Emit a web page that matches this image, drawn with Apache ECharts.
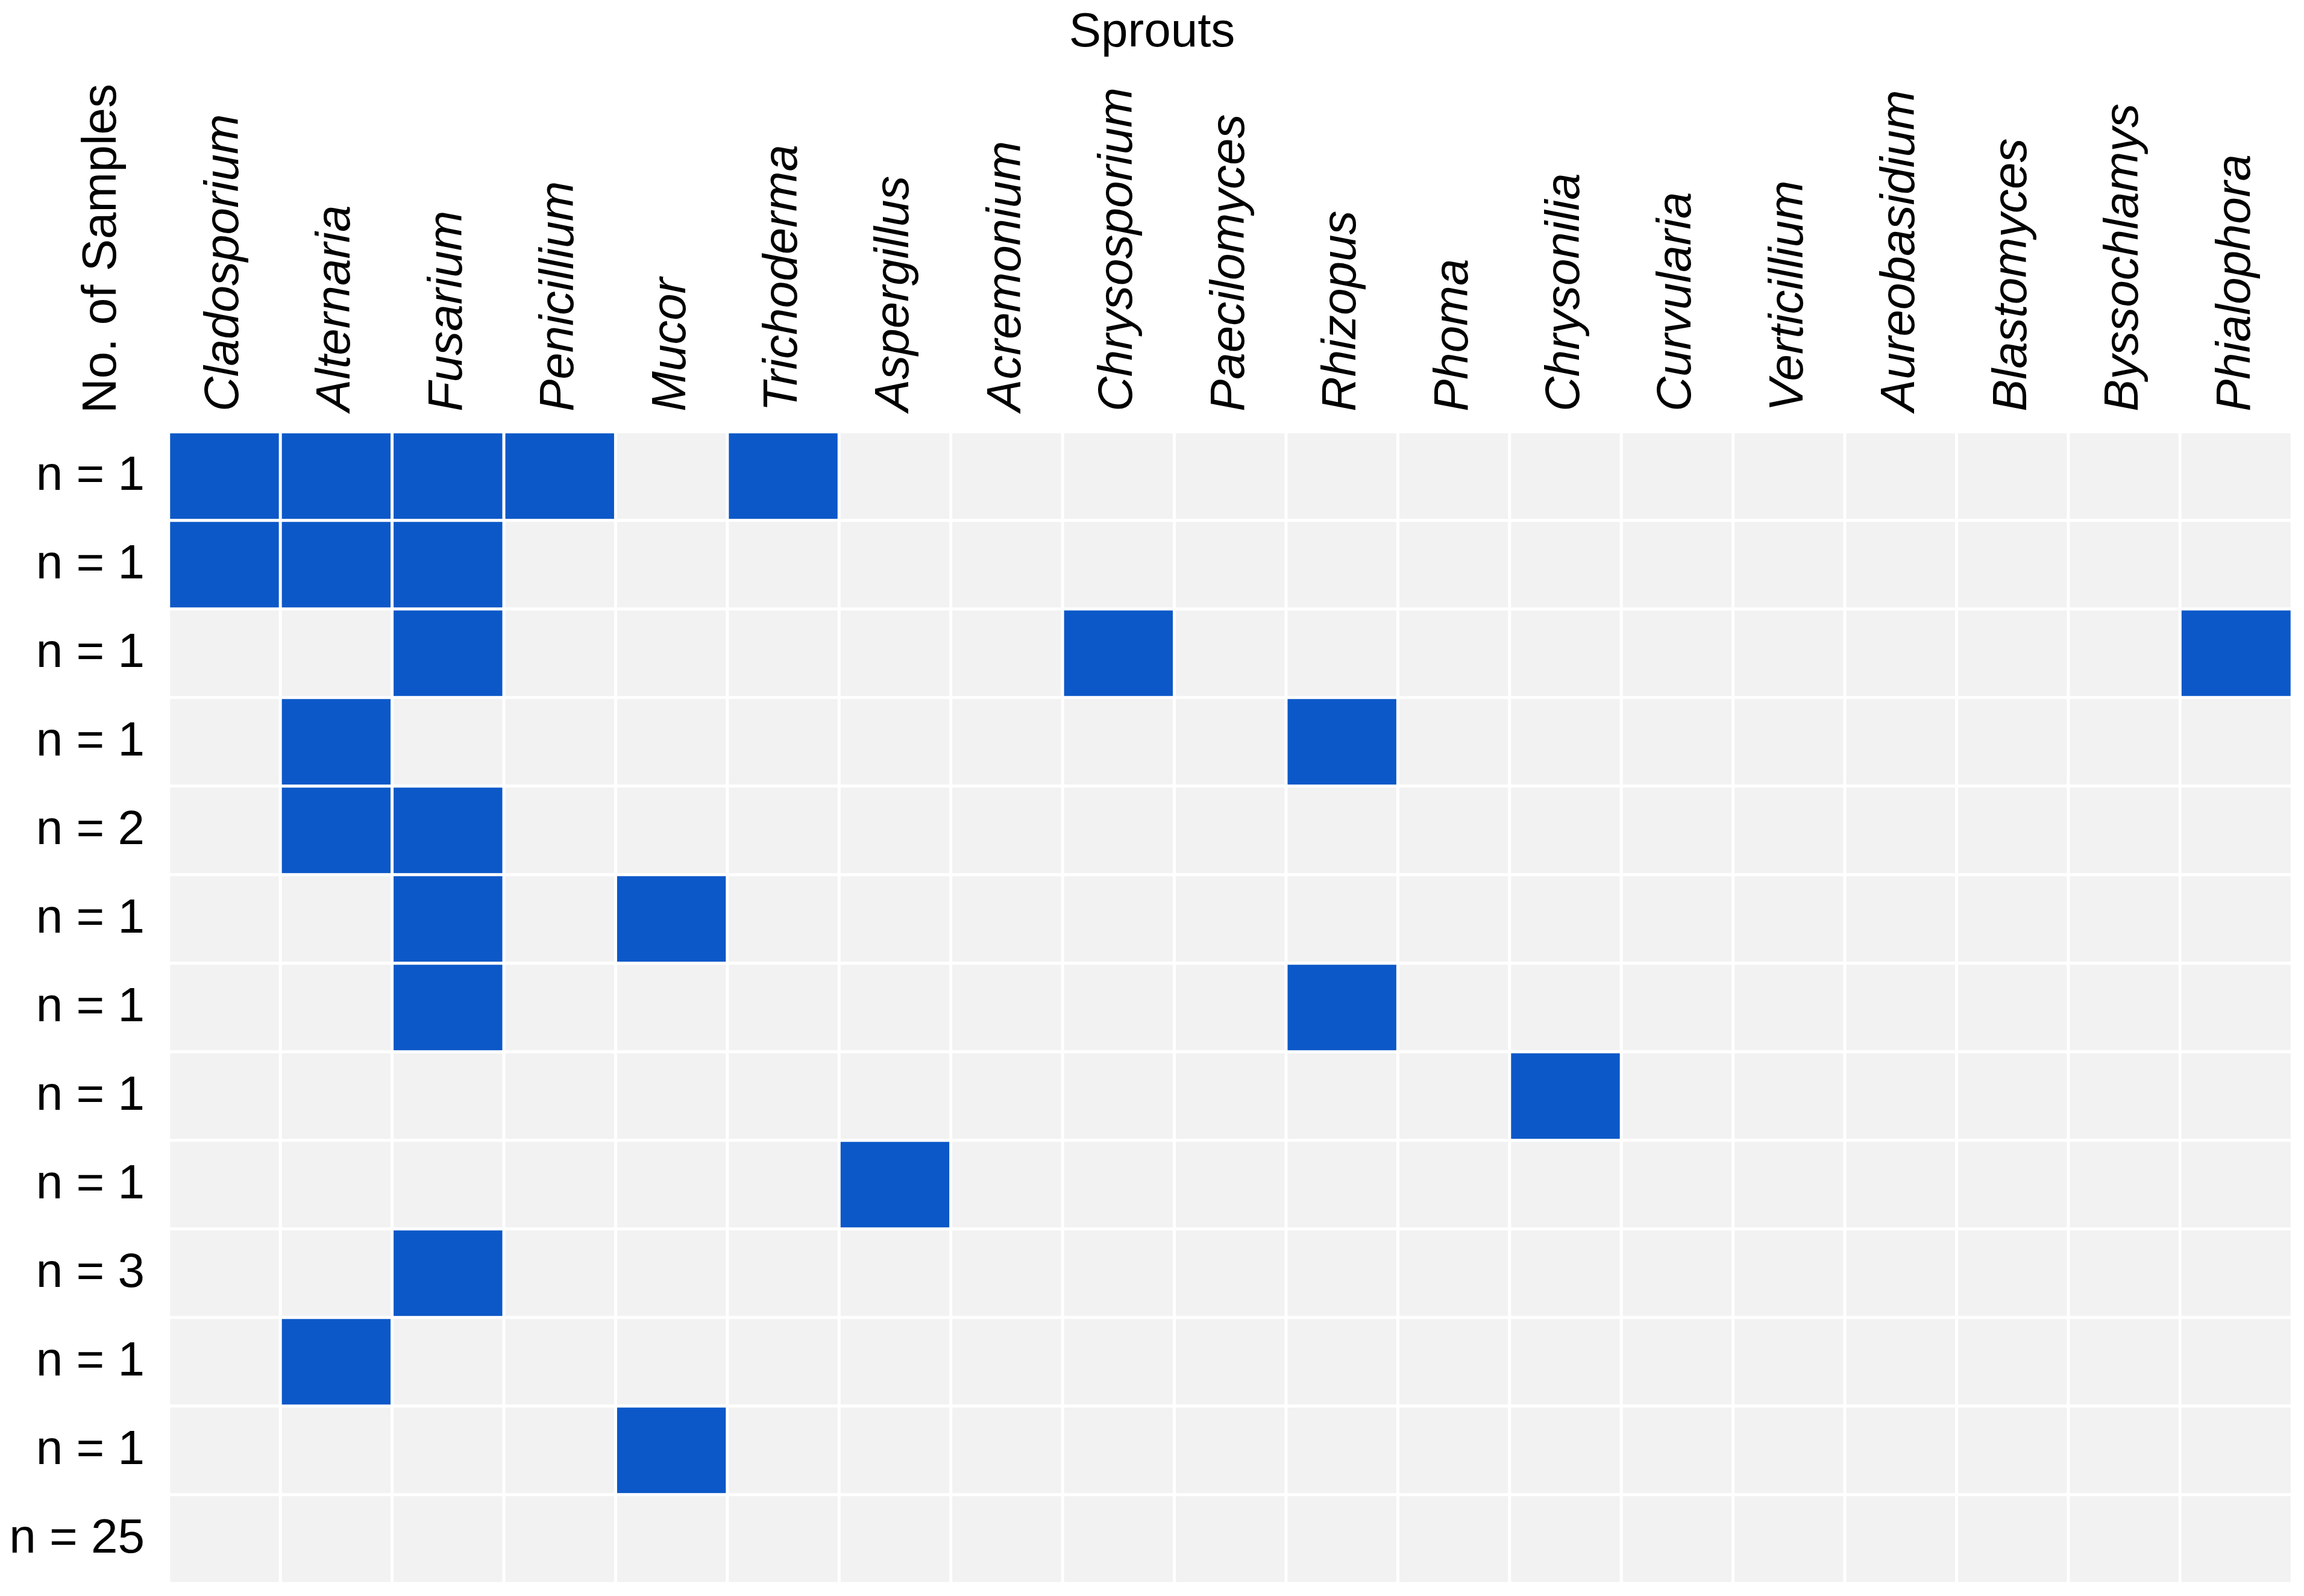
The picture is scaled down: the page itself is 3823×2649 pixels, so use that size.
<!DOCTYPE html>
<html>
<head>
<meta charset="utf-8">
<title>Sprouts</title>
<script src="https://cdn.jsdelivr.net/npm/echarts@6/dist/echarts.min.js"></script>
<style>
  html, body { margin: 0; padding: 0; background: #fff; }
  #main { width: 3823px; height: 2649px; }
</style>
</head>
<body>
<div id="main"></div>
<script>
const genera = [
  'Cladosporium', 'Alternaria', 'Fusarium', 'Penicillium', 'Mucor',
  'Trichoderma', 'Aspergillus', 'Acremonium', 'Chrysosporium', 'Paecilomyces',
  'Rhizopus', 'Phoma', 'Chrysonilia', 'Curvularia', 'Verticillium',
  'Aureobasidium', 'Blastomyces', 'Byssochlamys', 'Phialophora'
]
const sampleLabels = [
  'n = 1', 'n = 1', 'n = 1', 'n = 1', 'n = 2', 'n = 1', 'n = 1',
  'n = 1', 'n = 1', 'n = 3', 'n = 1', 'n = 1', 'n = 25'
]
// genera found in each sample group, top row first
const found = [
  ['Cladosporium', 'Alternaria', 'Fusarium', 'Penicillium', 'Trichoderma'],
  ['Cladosporium', 'Alternaria', 'Fusarium'],
  ['Fusarium', 'Chrysosporium', 'Phialophora'],
  ['Alternaria', 'Rhizopus'],
  ['Alternaria', 'Fusarium'],
  ['Fusarium', 'Mucor'],
  ['Fusarium', 'Rhizopus'],
  ['Chrysonilia'],
  ['Aspergillus'],
  ['Fusarium'],
  ['Alternaria'],
  ['Mucor'],
  []
]

const FONT = 'Liberation Sans'
const BLUE = '#0c58c8'
const GREY = '#f2f2f2'

const cells = []
sampleLabels.forEach((_, r) => {
  genera.forEach((g, c) => {
    cells.push([c, r, found[r].includes(g) ? 1 : 0])
  })
})

const chart = echarts.init(document.getElementById('main'))
chart.setOption({
  animation: false,
  backgroundColor: '#fff',
  title: {
    text: 'Sprouts',
    left: 'center',
    top: 10,
    textStyle: { fontFamily: FONT, fontSize: 80, fontWeight: 'normal', color: '#000' }
  },
  graphic: [{
    type: 'text',
    x: 170,
    y: 686,
    rotation: Math.PI / 2,
    style: {
      text: 'No. of Samples',
      fontFamily: FONT,
      fontSize: 80,
      fill: '#000',
      align: 'left',
      verticalAlign: 'middle'
    }
  }],
  grid: { left: 280, top: 717, right: 20, bottom: 21 },
  xAxis: {
    type: 'category',
    position: 'top',
    data: genera,
    axisLine: { show: false },
    axisTick: { show: false },
    splitLine: { show: false },
    axisLabel: {
      interval: 0,
      rotate: -90,
      margin: 34,
      fontFamily: FONT,
      fontSize: 80,
      fontStyle: 'italic',
      color: '#000'
    }
  },
  yAxis: {
    type: 'category',
    inverse: true,
    data: sampleLabels,
    axisLine: { show: false },
    axisTick: { show: false },
    splitLine: { show: false },
    axisLabel: {
      interval: 0,
      margin: 40,
      fontFamily: FONT,
      fontSize: 80,
      color: '#000'
    }
  },
  visualMap: {
    type: 'piecewise',
    show: false,
    dimension: 2,
    pieces: [
      { value: 0, color: GREY },
      { value: 1, color: BLUE }
    ]
  },
  series: [{
    type: 'heatmap',
    data: cells,
    itemStyle: { borderColor: '#fff', borderWidth: 5 },
    emphasis: { disabled: true }
  }]
})
</script>
</body>
</html>
